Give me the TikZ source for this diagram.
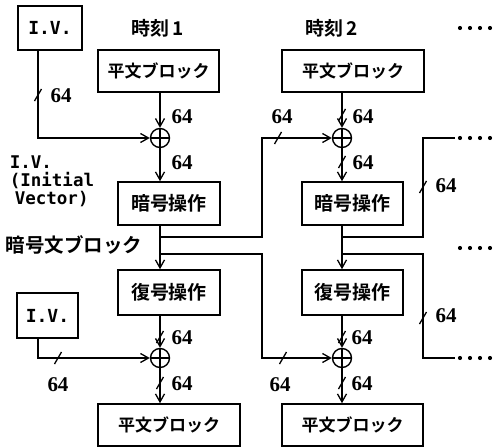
\documentclass[tikz,border=0pt]{standalone}
\usepackage{fontspec}
\usetikzlibrary{arrows.meta}
\newfontfamily\jp{Noto Sans CJK JP}[UprightFont={* Bold}]
\newfontfamily\numf{Liberation Serif}[UprightFont={* Bold}]
\newfontfamily\monof{DejaVu Sans Mono}[UprightFont={* Bold}]
\begin{document}
\begin{tikzpicture}[x=1pt,y=-1pt,line width=1.6pt,
  box/.style={draw,rectangle,inner sep=0pt,font=\jp\fontsize{17}{17}\selectfont},
  opbox/.style={box,font=\jp\fontsize{19}{19}\selectfont},
  ivbox/.style={draw,rectangle,inner sep=0pt,font=\monof\fontsize{18}{18}\selectfont},
  xor/.style={draw,circle,minimum size=19pt,inner sep=0pt,line width=1.4pt,
    path picture={\draw[line width=1.4pt] (path picture bounding box.north) -- (path picture bounding box.south)
      (path picture bounding box.west) -- (path picture bounding box.east);}},
  arr/.style={-{Straight Barb[length=8pt,width=9pt,line width=1.3pt]}},
  num/.style={font=\numf\fontsize{21}{21}\selectfont,inner sep=0pt},
  tk/.pic={\draw[line width=1.3pt] (-3.5,6) -- (3.5,-6);},
  dot/.style={fill,circle,inner sep=0pt,minimum size=4.2pt}
]
\useasboundingbox (0,0) rectangle (499,447);
\coordinate (a1) at (38,0);
% boxes
\node[ivbox,minimum width=64pt,minimum height=44pt] (iv1) at (50,28) {I.V.};
\node[ivbox,minimum width=61pt,minimum height=45pt] (iv2) at (47.5,315.5) {I.V.};
\node[box,minimum width=121pt,minimum height=42pt] (p1) at (158.5,71) {平文ブロック};
\node[box,minimum width=142pt,minimum height=42pt] (p2) at (353,71) {平文ブロック};
\node[opbox,minimum width=102pt,minimum height=43pt] (e1) at (169,203.5) {暗号操作};
\node[opbox,minimum width=101pt,minimum height=43pt] (e2) at (352.5,203.5) {暗号操作};
\node[opbox,minimum width=102pt,minimum height=45pt] (d1) at (169,292.5) {復号操作};
\node[opbox,minimum width=101pt,minimum height=45pt] (d2) at (352.5,292.5) {復号操作};
\node[box,minimum width=142pt,minimum height=42pt] (q1) at (169,425) {平文ブロック};
\node[box,minimum width=141pt,minimum height=42pt] (q2) at (352.5,425) {平文ブロック};
% xors
\node[xor] (x1) at (160,138) {};
\node[xor] (x2) at (342,138) {};
\node[xor] (x3) at (160,358) {};
\node[xor] (x4) at (342,358) {};
% branch coordinates
\coordinate (b1) at (160,237);
\coordinate (b2) at (160,254);
\coordinate (b3) at (342,237);
\coordinate (b4) at (342,254);
\coordinate (k1) at (262,138);
\coordinate (k2) at (262,358);
\coordinate (m1) at (423,138);
\coordinate (m2) at (423,358);
\coordinate (t1) at (455,138);
\coordinate (t2) at (455,358);
% titles
\node[font=\jp\fontsize{19}{19}\selectfont] (h1) at (158,28) {時刻\,1};
\node[font=\jp\fontsize{19}{19}\selectfont] (h2) at (332,28) {時刻\,2};
\node[anchor=north west,align=left,inner sep=0pt,font=\monof\fontsize{17.5}{18}\selectfont] (ivt) at (9,155)
  {I.V.\\(Initial\\\hspace*{5pt}Vector)};
\node[anchor=west,inner sep=0pt,font=\jp\fontsize{19.5}{19.5}\selectfont] (ct) at (5,245) {暗号文ブロック};
% connectors column 1
\draw[arr] (iv1.south -| a1) |- (x1.west);
\draw[arr] (p1.south -| x1) -- (x1.north);
\draw[arr] (x1.south) -- (e1.north -| x1);
\draw[arr] (e1.south -| x1) -- (d1.north -| x1);
\draw[arr] (d1.south -| x3) -- (x3.north);
\draw[arr] (x3.south) -- (q1.north -| x3);
\draw[arr] (iv2.south -| a1) |- (x3.west);
\draw[arr] (b1) -| (k1) -- (x2.west);
\draw[arr] (b2) -| (k2) -- (x4.west);
% column 2
\draw[arr] (p2.south -| x2) -- (x2.north);
\draw[arr] (x2.south) -- (e2.north -| x2);
\draw[arr] (e2.south -| x2) -- (d2.north -| x2);
\draw[arr] (d2.south -| x4) -- (x4.north);
\draw[arr] (x4.south) -- (q2.north -| x4);
\draw (b3) -| (m1) -- (t1);
\draw (b4) -| (m2) -- (t2);
% ticks
\pic at (38,95) {tk};
\pic at (278,138) {tk};
\pic at (342,115) {tk};
\pic at (342,162) {tk};
\pic at (423,187) {tk};
\pic at (160,337) {tk};
\pic at (160,383) {tk};
\pic at (58,358) {tk};
\pic at (283,358) {tk};
\pic at (342,337) {tk};
\pic at (342,383) {tk};
\pic at (423,318) {tk};
% labels 64
\node[num] (n1) at (61,96) {64};
\node[num] (n2) at (182,117) {64};
\node[num] (n3) at (182,163) {64};
\node[num] (n4) at (282,117) {64};
\node[num] (n5) at (363,117) {64};
\node[num] (n6) at (363,163) {64};
\node[num] (n7) at (446,186) {64};
\node[num] (n8) at (182,338) {64};
\node[num] (n9) at (182,384) {64};
\node[num] (n10) at (58,385) {64};
\node[num] (n11) at (280,385) {64};
\node[num] (n12) at (362,338) {64};
\node[num] (n13) at (362,384) {64};
\node[num] (n14) at (446,316) {64};
% dots
\foreach \yy in {28,138,248,358}{
  \foreach \xx in {460,470,480,490}{
    \node[dot] at (\xx,\yy) {};
  }
}
\end{tikzpicture}
\end{document}
